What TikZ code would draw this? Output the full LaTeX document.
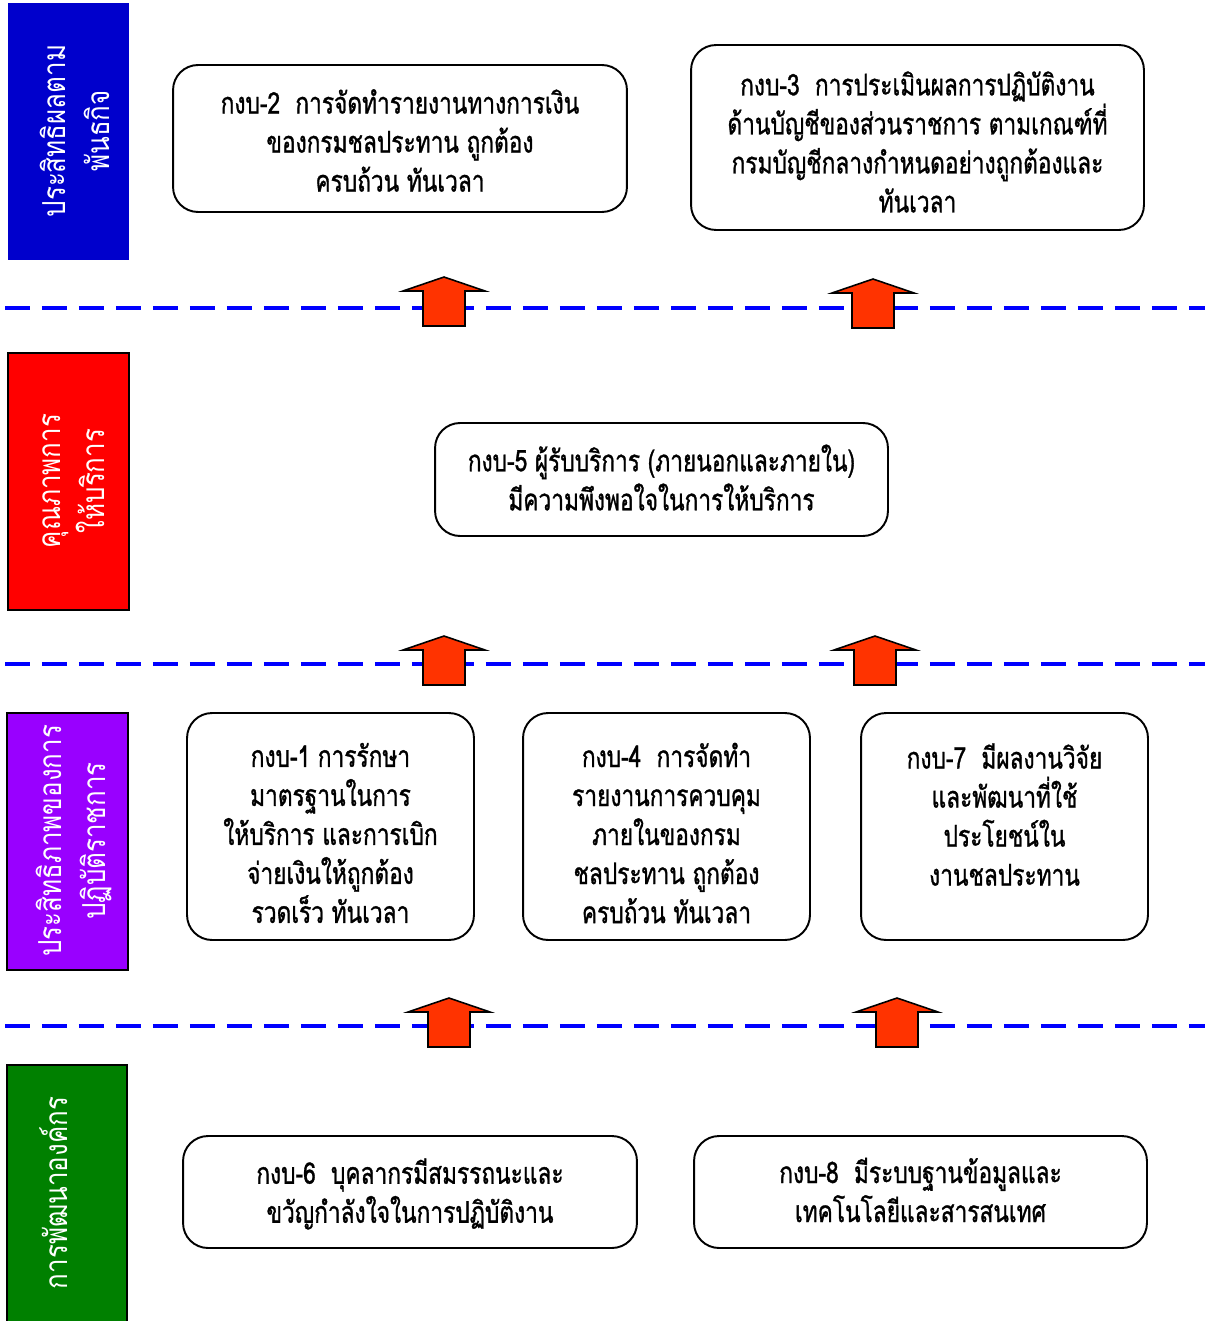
\documentclass[tikz,border=0pt]{standalone}
\usepackage{fontspec}
\setmainfont[Script=Thai,FakeStretch=0.76,FakeBold=1]{Loma}
\newfontfamily\bandfont[Script=Thai,FakeStretch=0.82]{Loma}
\definecolor{bandblue}{HTML}{0000CC}
\definecolor{bandred}{HTML}{FF0000}
\definecolor{bandpurple}{HTML}{9900FF}
\definecolor{bandgreen}{HTML}{008000}
\definecolor{arrowred}{HTML}{FF3300}
\begin{document}
\begin{tikzpicture}[x=0.02cm, y=-0.02cm,
    goal/.style={draw, line width=1.1pt, rounded corners=0.5cm, inner sep=0pt},
    goaltext/.style={align=center, font=\fontsize{17}{22.2}\selectfont, inner sep=0pt},
    bandtext/.style={rotate=90, align=center, text=white,
        font=\bandfont\fontsize{18}{25}\selectfont},
    level/.style={draw=blue, line width=2.3pt, dash pattern=on 0.5cm off 0.24cm},
    uparrow/.style={draw=black, line width=0.9pt, fill=arrowred, line join=miter}]

        \useasboundingbox (0,0) rectangle (1214,1321);

        % left bands
        \path[fill=bandblue] (8,3) rectangle (129,260);
        \path[fill=bandred,draw,line width=1.1pt] (8,353) rectangle (129,610);
        \path[fill=bandpurple,draw,line width=1.1pt] (7,713) rectangle (128,970);
        \path[fill=bandgreen,draw,line width=1.1pt] (7,1065) rectangle (127,1325);

        \node[bandtext] (l1) at (75,131) {ประสิทธิผลตาม\\พันธกิจ};
        \node[bandtext] (l2) at (74,481) {คุณภาพการ\\ให้บริการ};
        \node[bandtext] (l3) at (74,841) {ประสิทธิภาพของการ\\ปฏิบัติราชการ};
        \node[bandtext] (l4) at (54,1193) {การพัฒนาองค์กร};

        % dashed level lines
        \path[level] (5,308) -- (1205,308);
        \path[level] (5,664) -- (1205,664);
        \path[level] (5,1026) -- (1205,1026);

        % goal boxes
        \node[goal, minimum width=9.08cm, minimum height=2.94cm] (g2) at (400,138.5) {};
        \node[goal, minimum width=9.06cm, minimum height=3.7cm] (g3) at (917.5,137.5) {};
        \node[goal, minimum width=9.06cm, minimum height=2.26cm] (g5) at (661.5,479.5) {};
        \node[goal, minimum width=5.74cm, minimum height=4.54cm] (g1) at (330.5,826.5) {};
        \node[goal, minimum width=5.74cm, minimum height=4.54cm] (g4) at (666.5,826.5) {};
        \node[goal, minimum width=5.74cm, minimum height=4.54cm] (g7) at (1004.5,826.5) {};
        \node[goal, minimum width=9.08cm, minimum height=2.24cm] (g6) at (410,1192) {};
        \node[goal, minimum width=9.06cm, minimum height=2.24cm] (g8) at (920.5,1192) {};

        % goal texts
        \node[goaltext] (t2) at (400,140.5)
            {กงบ-2~ การจัดทำรายงานทางการเงิน\\ของกรมชลประทาน ถูกต้อง\\ครบถ้วน ทันเวลา};
        \node[goaltext] (t3) at (917.5,142)
            {กงบ-3~ การประเมินผลการปฏิบัติงาน\\ด้านบัญชีของส่วนราชการ ตามเกณฑ์ที่\\กรมบัญชีกลางกำหนดอย่างถูกต้องและ\\ทันเวลา};
        \node[goaltext] (t5) at (661.5,477.5)
            {กงบ-5 ผู้รับบริการ (ภายนอกและภายใน)\\มีความพึงพอใจในการให้บริการ};
        \node[goaltext] (t1) at (330.5,833)
            {กงบ-1 การรักษา\\มาตรฐานในการ\\ให้บริการ และการเบิก\\จ่ายเงินให้ถูกต้อง\\รวดเร็ว ทันเวลา};
        \node[goaltext] (t4) at (666.5,833)
            {กงบ-4~ การจัดทำ\\รายงานการควบคุม\\ภายในของกรม\\ชลประทาน ถูกต้อง\\ครบถ้วน ทันเวลา};
        \node[goaltext] (t7) at (1004.5,814.5)
            {กงบ-7~ มีผลงานวิจัย\\และพัฒนาที่ใช้\\ประโยชน์ใน\\งานชลประทาน};
        \node[goaltext] (t6) at (410,1194)
            {กงบ-6~ บุคลากรมีสมรรถนะและ\\ขวัญกำลังใจในการปฏิบัติงาน};
        \node[goaltext] (t8) at (920.5,1190)
            {กงบ-8~ มีระบบฐานข้อมูลและ\\เทคโนโลยีและสารสนเทศ};

        % block arrows between levels
        \foreach \cx/\ty in {444/277, 873/279, 444/636, 875/636, 449/998, 897/998}
            \path[uparrow] (\cx,\ty) -- (\cx+41,\ty+14) -- (\cx+21,\ty+14) -- (\cx+21,\ty+49)
                -- (\cx-21,\ty+49) -- (\cx-21,\ty+14) -- (\cx-41,\ty+14) -- cycle;

    \end{tikzpicture}
\end{document}
